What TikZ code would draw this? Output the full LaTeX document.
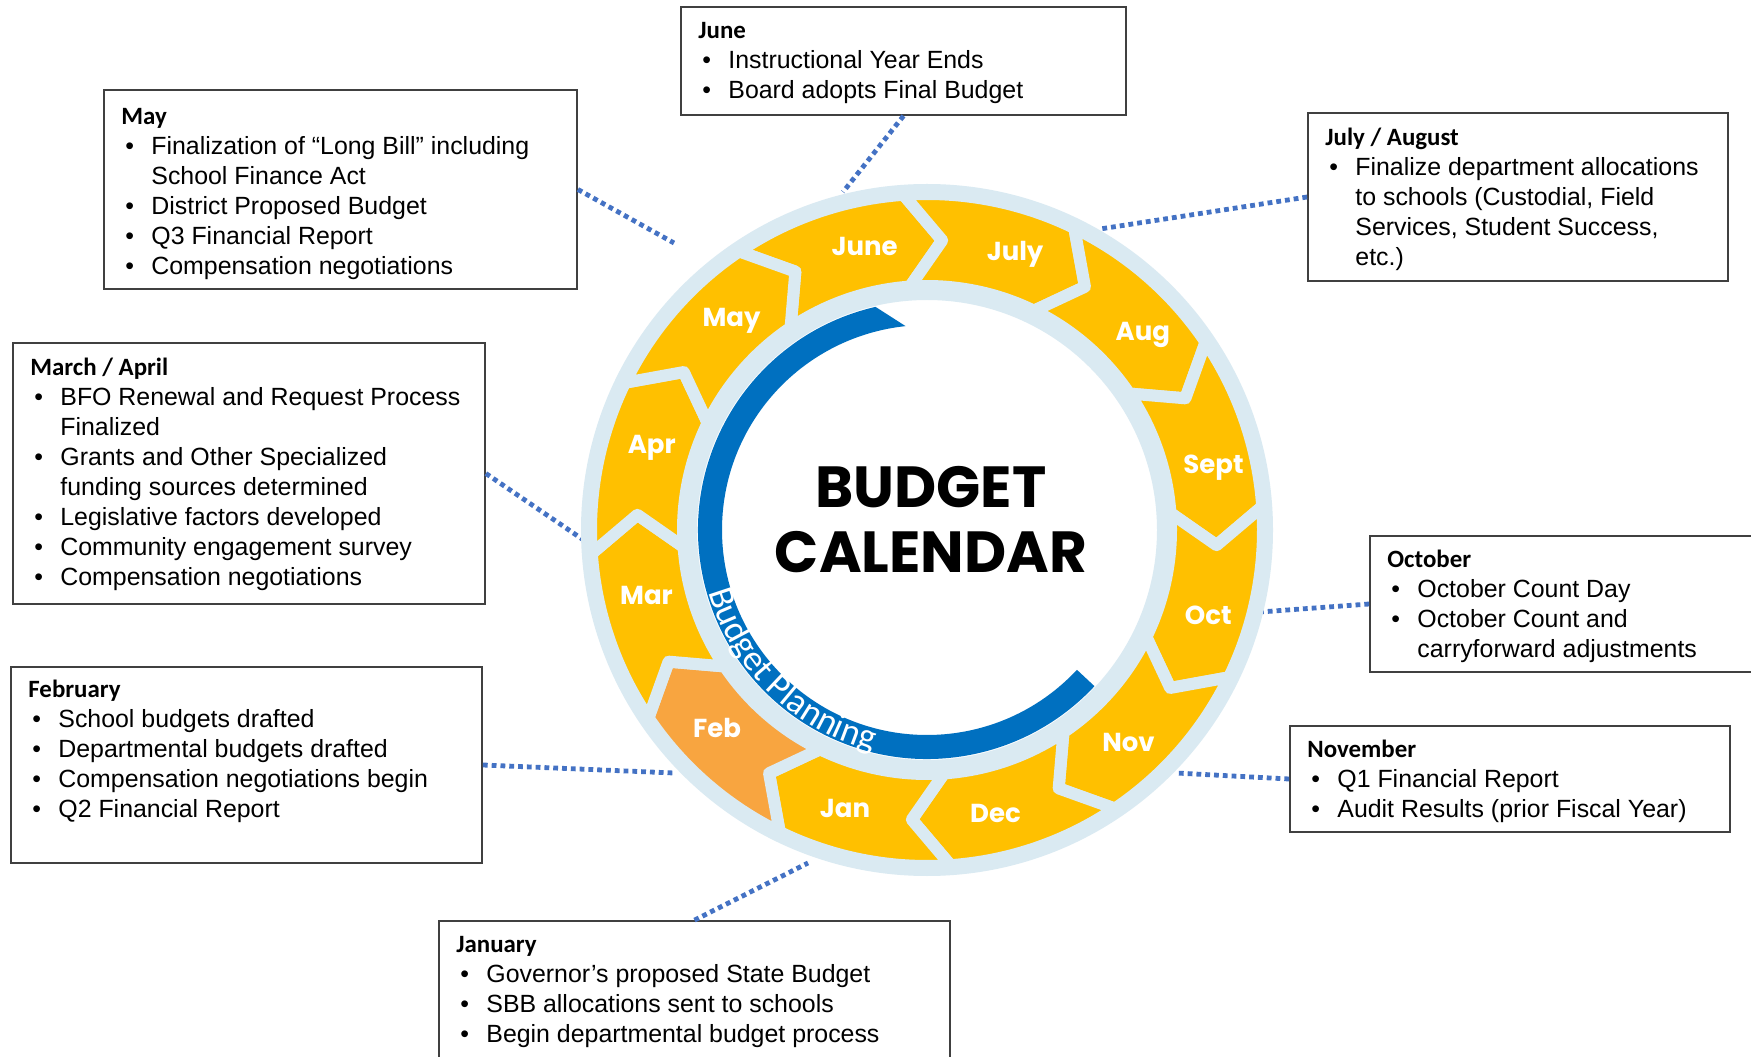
\documentclass[tikz,border=0pt]{standalone}
\usepackage{fontspec}
\setmainfont{Liberation Sans}
\newfontfamily\ttlfont{Carlito}
\newfontfamily\popfont{Poppins}
\newfontfamily\calfont{Carlito}
\usetikzlibrary{fit,decorations.text,calc}
\definecolor{ringblue}{RGB}{218,234,242}
\definecolor{chevyellow}{RGB}{255,192,0}
\definecolor{feborange}{RGB}{248,165,64}
\definecolor{arcblue}{RGB}{0,112,192}
\definecolor{dotblue}{RGB}{68,114,196}
\definecolor{boxgray}{RGB}{64,64,64}
\newcommand\bitem[1]{\makebox[15pt][l]{\hspace{2pt}\textbullet}#1}
\newcommand\bcont[1]{\hspace{15pt}#1}
\newcommand\btitle[1]{{\ttlfont\bfseries #1}}
\begin{document}
\begin{tikzpicture}[x=0.5pt,y=0.5pt,
  box/.style={draw=boxgray, line width=0.9pt, inner sep=0pt, fill=white},
  boxtext/.style={anchor=base west, inner sep=0pt, font=\fontsize{12.45pt}{15pt}\selectfont},
  conn/.style={draw=dotblue, line width=2.4pt, dash pattern=on 2.4pt off 2pt},
  chev/.style={fill=chevyellow, draw=ringblue, line width=6pt, line join=round},
  mlabel/.style={text=white, font=\popfont\bfseries\fontsize{13pt}{13pt}\selectfont, anchor=base, yshift=-4.5pt, xshift=1.5pt, inner sep=0pt},
  bigtitle/.style={font=\popfont\bfseries\fontsize{29pt}{29pt}\selectfont, inner sep=0pt}]
\fill[white] (0,0) rectangle (1751,1056);
\useasboundingbox (0,0) rectangle (1751,1056);

% boxes
\node[box, fit={(681,941) (1126,1049)}] (b-june) {};
\node[box, fit={(104,767) (577,966)}] (b-may) {};
\node[box, fit={(13,452) (485,713)}] (b-mar) {};
\node[box, fit={(11,193) (482,389)}] (b-feb) {};
\node[box, fit={(439,-20) (950,135)}] (b-jan) {};
\node[box, fit={(1308,775) (1728,943)}] (b-jul) {};
\node[box, fit={(1370,384) (1775,520)}] (b-oct) {};
\node[box, fit={(1290,224) (1730,330)}] (b-nov) {};

% ring end points of connectors
\coordinate (e-june) at (843,864);
\coordinate (e-may) at (674,813);
\coordinate (e-jul) at (1100,827);
\coordinate (e-mar) at (588,513);
\coordinate (e-oct) at (1260,444);
\coordinate (e-feb) at (674,283);
\coordinate (e-nov) at (1176,283);
\coordinate (e-jan) at (808,193);

\draw[conn] (b-june.south) -- (e-june);
\draw[conn] (b-may.east) -- (e-may);
\draw[conn] (b-jul.west) -- (e-jul);
\draw[conn] (b-mar.east) -- (e-mar);
\draw[conn] (b-oct.west) -- (e-oct);
\draw[conn] (b-feb.east) -- (e-feb);
\draw[conn] (b-nov.west) -- (e-nov);
\draw[conn] (b-jan.north) -- (e-jan);

% ring
\fill[ringblue, even odd rule] (927,526) circle[radius=346] (927,526) circle[radius=230];
\begin{scope}[shift={(927,526)}]
\foreach \k/\m/\c in {0/June/chevyellow,1/July/chevyellow,2/Aug/chevyellow,3/Sept/chevyellow,4/Oct/chevyellow,5/Nov/chevyellow,6/Dec/chevyellow,7/Jan/chevyellow,8/Feb/feborange,9/Mar/chevyellow,10/Apr/chevyellow,11/May/chevyellow}{
  \pgfmathsetmacro\tA{94-30*\k}
  \pgfmathsetmacro\tB{\tA+30}
  \pgfmathsetmacro\tP{\tA-7}
  \pgfmathsetmacro\tN{\tA+23}
  \pgfmathsetmacro\tL{\tA+9}
  \path[chev, fill=\c] (\tB:336) arc[start angle=\tB, end angle=\tA, radius=336] -- (\tP:290) -- (\tA:244) arc[start angle=\tA, end angle=\tB, radius=244] -- (\tN:290) -- cycle;
  \node[mlabel] (m-\m) at (\tL:291) {\m};
}
\fill[arcblue] (103:229) arc[start angle=103, end angle=317, radius=229] -- (317:205) arc[start angle=317, end angle=96, radius=205] -- cycle;
\path[decorate, decoration={text along path, text={|\calfont\fontsize{18pt}{18pt}\selectfont|Budget Planning}, text align=center, text color=white}] (188:227) arc[start angle=188, end angle=264, radius=227];
\end{scope}

\node[bigtitle] (t-budget) at (931,569) {BUDGET};
\node[bigtitle] (t-calendar) at (931,504) {CALENDAR};

% box texts
\node[boxtext] (t-june) at (698,1017) {\begin{tabular}[t]{@{}l@{}}
\btitle{June}\\
\bitem{Instructional Year Ends}\\
\bitem{Board adopts Final Budget}
\end{tabular}};
\node[boxtext] (t-may) at (121,931) {\begin{tabular}[t]{@{}l@{}}
\btitle{May}\\
\bitem{Finalization of “Long Bill” including}\\
\bcont{School Finance Act}\\
\bitem{District Proposed Budget}\\
\bitem{Q3 Financial Report}\\
\bitem{Compensation negotiations}
\end{tabular}};
\node[boxtext] (t-mar) at (30,680) {\begin{tabular}[t]{@{}l@{}}
\btitle{March / April}\\
\bitem{BFO Renewal and Request Process}\\
\bcont{Finalized}\\
\bitem{Grants and Other Specialized}\\
\bcont{funding sources determined}\\
\bitem{Legislative factors developed}\\
\bitem{Community engagement survey}\\
\bitem{Compensation negotiations}
\end{tabular}};
\node[boxtext] (t-feb) at (28,358) {\begin{tabular}[t]{@{}l@{}}
\btitle{February}\\
\bitem{School budgets drafted}\\
\bitem{Departmental budgets drafted}\\
\bitem{Compensation negotiations begin}\\
\bitem{Q2 Financial Report}
\end{tabular}};
\node[boxtext] (t-jan) at (456,104) {\begin{tabular}[t]{@{}l@{}}
\btitle{January}\\
\bitem{Governor’s proposed State Budget}\\
\bitem{SBB allocations sent to schools}\\
\bitem{Begin departmental budget process}
\end{tabular}};
\node[boxtext] (t-jul) at (1325,910) {\begin{tabular}[t]{@{}l@{}}
\btitle{July / August}\\
\bitem{Finalize department allocations}\\
\bcont{to schools (Custodial, Field}\\
\bcont{Services, Student Success,}\\
\bcont{etc.)}
\end{tabular}};
\node[boxtext] (t-oct) at (1387,488) {\begin{tabular}[t]{@{}l@{}}
\btitle{October}\\
\bitem{October Count Day}\\
\bitem{October Count and}\\
\bcont{carryforward adjustments}
\end{tabular}};
\node[boxtext] (t-nov) at (1307,299) {\begin{tabular}[t]{@{}l@{}}
\btitle{November}\\
\bitem{Q1 Financial Report}\\
\bitem{Audit Results (prior Fiscal Year)}
\end{tabular}};
\end{tikzpicture}
\end{document}
